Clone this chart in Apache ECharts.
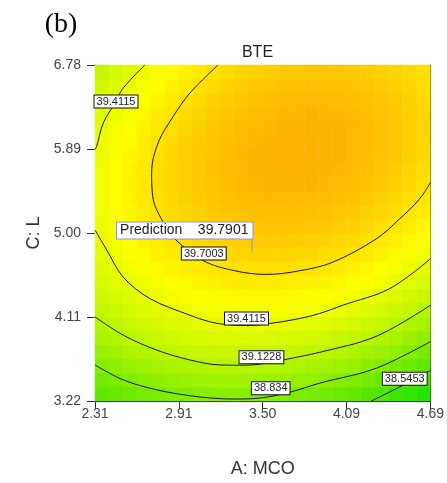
<!DOCTYPE html>
<html>
<head>
<meta charset="utf-8">
<script src="https://cdn.jsdelivr.net/npm/echarts@6/dist/echarts.min.js"></script>
<style>
  html, body { margin: 0; padding: 0; background: #fff; }
  #chart { width: 447px; height: 483px; }
</style>
</head>
<body>
<div id="chart"></div>
<script>
// Cell centres of the response grid: factor A (MCO) and factor C (L)
const aCells = ['2.360', '2.459', '2.558', '2.657', '2.756', '2.855', '2.955', '3.054',
                '3.153', '3.252', '3.351', '3.450', '3.550', '3.649', '3.748', '3.847',
                '3.946', '4.045', '4.145', '4.244', '4.343', '4.442', '4.541', '4.640'];
const cCells = ['3.294', '3.443', '3.591', '3.739', '3.888', '4.036', '4.184', '4.333',
                '4.481', '4.629', '4.778', '4.926', '5.074', '5.223', '5.371', '5.519',
                '5.668', '5.816', '5.964', '6.113', '6.261', '6.409', '6.558', '6.706'];

// Predicted BTE on the A–C plane; one row per C cell, lowest C first
const bteGrid = [
  [38.64, 38.68, 38.73, 38.76, 38.79, 38.82, 38.84, 38.86, 38.87, 38.87, 38.87, 38.86, 38.85, 38.83, 38.81, 38.78, 38.75, 38.71, 38.67, 38.62, 38.56, 38.50, 38.44, 38.37],
  [38.75, 38.80, 38.84, 38.88, 38.91, 38.94, 38.96, 38.98, 38.99, 39.00, 39.00, 38.99, 38.98, 38.97, 38.94, 38.92, 38.89, 38.85, 38.81, 38.76, 38.70, 38.65, 38.58, 38.51],
  [38.85, 38.90, 38.95, 38.99, 39.02, 39.05, 39.07, 39.09, 39.11, 39.11, 39.11, 39.11, 39.10, 39.09, 39.07, 39.04, 39.01, 38.98, 38.94, 38.89, 38.84, 38.78, 38.72, 38.65],
  [38.95, 39.00, 39.05, 39.09, 39.12, 39.15, 39.18, 39.20, 39.21, 39.22, 39.23, 39.22, 39.22, 39.20, 39.19, 39.16, 39.13, 39.10, 39.06, 39.01, 38.96, 38.91, 38.85, 38.78],
  [39.03, 39.09, 39.14, 39.18, 39.22, 39.25, 39.28, 39.30, 39.31, 39.32, 39.33, 39.33, 39.32, 39.31, 39.29, 39.27, 39.25, 39.21, 39.17, 39.13, 39.08, 39.03, 38.97, 38.90],
  [39.11, 39.17, 39.22, 39.26, 39.30, 39.34, 39.36, 39.39, 39.41, 39.42, 39.42, 39.42, 39.42, 39.41, 39.40, 39.37, 39.35, 39.32, 39.28, 39.24, 39.19, 39.14, 39.08, 39.02],
  [39.19, 39.24, 39.29, 39.34, 39.38, 39.42, 39.45, 39.47, 39.49, 39.50, 39.51, 39.51, 39.51, 39.50, 39.49, 39.47, 39.45, 39.42, 39.38, 39.34, 39.29, 39.24, 39.18, 39.12],
  [39.25, 39.31, 39.36, 39.41, 39.45, 39.49, 39.52, 39.55, 39.57, 39.58, 39.59, 39.59, 39.59, 39.59, 39.57, 39.56, 39.53, 39.50, 39.47, 39.43, 39.39, 39.34, 39.28, 39.22],
  [39.31, 39.37, 39.42, 39.47, 39.51, 39.55, 39.58, 39.61, 39.63, 39.65, 39.66, 39.67, 39.67, 39.66, 39.65, 39.63, 39.61, 39.59, 39.55, 39.52, 39.47, 39.42, 39.37, 39.31],
  [39.36, 39.42, 39.47, 39.52, 39.57, 39.61, 39.64, 39.67, 39.69, 39.71, 39.72, 39.73, 39.73, 39.73, 39.72, 39.71, 39.69, 39.66, 39.63, 39.59, 39.55, 39.50, 39.45, 39.39],
  [39.40, 39.46, 39.52, 39.57, 39.62, 39.66, 39.69, 39.72, 39.75, 39.77, 39.78, 39.79, 39.79, 39.79, 39.78, 39.77, 39.75, 39.73, 39.70, 39.66, 39.62, 39.58, 39.52, 39.47],
  [39.43, 39.49, 39.55, 39.61, 39.65, 39.70, 39.73, 39.77, 39.79, 39.81, 39.83, 39.84, 39.84, 39.84, 39.84, 39.82, 39.81, 39.78, 39.76, 39.72, 39.68, 39.64, 39.59, 39.54],
  [39.45, 39.52, 39.58, 39.64, 39.68, 39.73, 39.77, 39.80, 39.83, 39.85, 39.87, 39.88, 39.89, 39.89, 39.88, 39.87, 39.86, 39.83, 39.81, 39.78, 39.74, 39.70, 39.65, 39.59],
  [39.47, 39.54, 39.60, 39.66, 39.71, 39.75, 39.79, 39.83, 39.86, 39.88, 39.90, 39.91, 39.92, 39.92, 39.92, 39.91, 39.90, 39.88, 39.85, 39.82, 39.79, 39.74, 39.70, 39.65],
  [39.48, 39.55, 39.61, 39.67, 39.72, 39.77, 39.81, 39.85, 39.88, 39.90, 39.92, 39.94, 39.95, 39.95, 39.95, 39.94, 39.93, 39.91, 39.89, 39.86, 39.82, 39.78, 39.74, 39.69],
  [39.48, 39.55, 39.62, 39.68, 39.73, 39.78, 39.82, 39.86, 39.89, 39.92, 39.94, 39.96, 39.97, 39.97, 39.97, 39.97, 39.95, 39.94, 39.92, 39.89, 39.86, 39.82, 39.77, 39.72],
  [39.48, 39.55, 39.61, 39.67, 39.73, 39.78, 39.82, 39.86, 39.90, 39.93, 39.95, 39.97, 39.98, 39.98, 39.99, 39.98, 39.97, 39.96, 39.94, 39.91, 39.88, 39.84, 39.80, 39.75],
  [39.46, 39.53, 39.60, 39.66, 39.72, 39.77, 39.82, 39.86, 39.89, 39.92, 39.95, 39.97, 39.98, 39.99, 39.99, 39.99, 39.98, 39.97, 39.95, 39.92, 39.89, 39.86, 39.82, 39.77],
  [39.44, 39.51, 39.58, 39.65, 39.71, 39.76, 39.81, 39.85, 39.88, 39.92, 39.94, 39.96, 39.98, 39.99, 39.99, 39.99, 39.98, 39.97, 39.95, 39.93, 39.90, 39.87, 39.83, 39.78],
  [39.41, 39.49, 39.56, 39.62, 39.68, 39.74, 39.78, 39.83, 39.87, 39.90, 39.93, 39.95, 39.96, 39.98, 39.98, 39.98, 39.98, 39.97, 39.95, 39.93, 39.90, 39.87, 39.83, 39.79],
  [39.37, 39.45, 39.52, 39.59, 39.65, 39.70, 39.76, 39.80, 39.84, 39.87, 39.90, 39.93, 39.94, 39.96, 39.96, 39.97, 39.96, 39.95, 39.94, 39.92, 39.89, 39.86, 39.83, 39.78],
  [39.33, 39.40, 39.48, 39.55, 39.61, 39.67, 39.72, 39.76, 39.81, 39.84, 39.87, 39.90, 39.92, 39.93, 39.94, 39.94, 39.94, 39.93, 39.92, 39.90, 39.88, 39.85, 39.81, 39.77],
  [39.27, 39.35, 39.43, 39.50, 39.56, 39.62, 39.67, 39.72, 39.76, 39.80, 39.83, 39.86, 39.88, 39.90, 39.91, 39.91, 39.91, 39.90, 39.89, 39.87, 39.85, 39.82, 39.79, 39.75],
  [39.21, 39.29, 39.37, 39.44, 39.51, 39.57, 39.62, 39.67, 39.71, 39.75, 39.79, 39.81, 39.84, 39.85, 39.86, 39.87, 39.87, 39.87, 39.86, 39.84, 39.82, 39.79, 39.76, 39.72]
];

// Axis ticks
const xTickValues = [2.31, 2.905, 3.50, 4.095, 4.69];
const xTickLabels = ['2.31', '2.91', '3.50', '4.09', '4.69'];
const yTickValues = [3.22, 4.11, 5.00, 5.89, 6.78];
const yTickLabels = ['3.22', '4.11', '5.00', '5.89', '6.78'];

// Contour lines as [A, C] points
const contour39_4115a = [[2.664, 6.78], [2.510, 6.535], [2.452, 6.377], [2.369, 6.166], [2.322, 5.919], [2.31, 5.885]];
const contour39_7003 = [[3.183, 6.78], [2.983, 6.482], [2.865, 6.235], [2.758, 5.955], [2.712, 5.639], [2.723, 5.358],
                        [2.782, 5.147], [2.865, 4.955], [3.077, 4.708], [3.302, 4.600], [3.526, 4.561], [3.762, 4.600],
                        [3.998, 4.691], [4.305, 4.937], [4.470, 5.147], [4.612, 5.358], [4.69, 5.534]];
const contour39_4115b = [[2.31, 5.032], [2.393, 4.821], [2.510, 4.533], [2.700, 4.305], [2.983, 4.129], [3.125, 4.059],
                         [3.266, 4.026], [3.408, 4.020], [3.550, 4.041], [3.762, 4.094], [3.904, 4.147], [4.067, 4.234],
                         [4.400, 4.410], [4.69, 4.726]];
const contour39_1228 = [[2.31, 4.112], [2.510, 3.918], [2.747, 3.760], [2.983, 3.655], [3.195, 3.602], [3.337, 3.599],
                        [3.479, 3.610], [3.644, 3.655], [3.904, 3.736], [4.305, 3.905], [4.69, 4.234]];
const contour38_834 = [[2.31, 3.602], [2.510, 3.444], [2.747, 3.339], [2.983, 3.276], [3.160, 3.248], [3.302, 3.241],
                       [3.479, 3.251], [3.691, 3.312], [3.904, 3.409], [4.305, 3.567], [4.69, 3.849]];
const contour38_5453 = [[4.270, 3.22], [4.470, 3.367], [4.69, 3.546]];

// Contour level tags: [level, A, C]
const contourTags = [
  ['39.4115', 2.459, 6.393],
  ['39.7003', 3.082, 4.782],
  ['39.4115', 3.385, 4.094],
  ['39.1228', 3.491, 3.683],
  ['38.834', 3.557, 3.354],
  ['38.5453', 4.508, 3.455]
];

// Prediction flag
const predA = 3.424;
const predC = 4.803;
const predValue = '39.7901';

const heatData = [];
bteGrid.forEach((row, j) => row.forEach((v, i) => heatData.push([i, j, v])));

const tickText = (ticks, labels) => (v) => {
  const i = ticks.findIndex(t => Math.abs(t - v) < 1e-6);
  return i >= 0 ? labels[i] : '';
};

const lineColor = '#151515';
const contourSeries = [contour39_4115a, contour39_7003, contour39_4115b, contour39_1228, contour38_834, contour38_5453]
  .map(pts => ({
    type: 'line',
    xAxisIndex: 1,
    yAxisIndex: 1,
    data: pts,
    smooth: 0.35,
    symbol: 'none',
    silent: true,
    lineStyle: { color: lineColor, width: 1 },
    z: 3
  }));

const chart = echarts.init(document.getElementById('chart'), null, { renderer: 'canvas' });

chart.setOption({
  animation: false,
  backgroundColor: '#fff',
  graphic: [
    {
      type: 'text', x: 61, y: 25,
      style: { text: '(b)', font: '28px "Liberation Serif", "Times New Roman", serif', fill: '#000',
               textAlign: 'center', textVerticalAlign: 'middle' }
    },
    {
      type: 'text', x: 257.5, y: 53,
      style: { text: 'BTE', font: '16px Arial, "Liberation Sans", sans-serif', fill: '#222',
               textAlign: 'center', textVerticalAlign: 'middle' }
    }
  ],
  grid: { left: 95, top: 65, width: 336, height: 338, show: false },
  visualMap: {
    type: 'continuous',
    show: false,
    seriesIndex: 0,
    dimension: 2,
    min: 38.2,
    max: 40.0,
    inRange: { color: ['#00e000', '#5fe800', '#b4f500', '#ffff00', '#ffb000'] }
  },
  xAxis: [
    {
      type: 'category', data: aCells, position: 'top',
      axisLine: { show: true, lineStyle: { color: lineColor, width: 1 } },
      axisTick: { show: false }, axisLabel: { show: false }, splitLine: { show: false }
    },
    {
      type: 'value', min: 2.31, max: 4.69, position: 'bottom',
      name: 'A: MCO', nameLocation: 'middle', nameGap: 59,
      nameTextStyle: { fontSize: 18, color: '#333', fontFamily: 'Arial' },
      axisLine: { show: true, onZero: false, lineStyle: { color: lineColor, width: 1 } },
      axisTick: { show: true, length: 8, customValues: xTickValues, lineStyle: { color: '#333' } },
      axisLabel: { customValues: xTickValues, formatter: tickText(xTickValues, xTickLabels),
                   margin: 6, fontSize: 14, color: '#444', fontFamily: 'Arial' },
      splitLine: { show: false }
    }
  ],
  yAxis: [
    {
      type: 'category', data: cCells, position: 'right',
      axisLine: { show: true, lineStyle: { color: lineColor, width: 1 } },
      axisTick: { show: false }, axisLabel: { show: false }, splitLine: { show: false }
    },
    {
      type: 'value', min: 3.22, max: 6.78, position: 'left',
      name: 'C: L', nameLocation: 'middle', nameGap: 46, nameRotate: 90,
      nameTextStyle: { fontSize: 18, color: '#333', fontFamily: 'Arial' },
      axisLine: { show: true, onZero: false, lineStyle: { color: '#555', width: 1 } },
      axisTick: { show: true, length: 8, customValues: yTickValues, lineStyle: { color: '#333' } },
      axisLabel: { customValues: yTickValues, formatter: tickText(yTickValues, yTickLabels),
                   margin: 14, fontSize: 14, color: '#444', fontFamily: 'Arial' },
      splitLine: { show: false }
    }
  ],
  series: [
    {
      type: 'heatmap',
      xAxisIndex: 0,
      yAxisIndex: 0,
      data: heatData,
      silent: true,
      itemStyle: { borderWidth: 0 },
      z: 1
    },
    ...contourSeries,
    {
      type: 'scatter',
      xAxisIndex: 1,
      yAxisIndex: 1,
      symbolSize: 1,
      silent: true,
      itemStyle: { color: 'transparent', opacity: 1 },
      data: contourTags.map(t => ({ name: t[0], value: [t[1], t[2]] })),
      label: {
        show: true, position: 'inside', formatter: '{b}',
        backgroundColor: '#fff', borderColor: '#111', borderWidth: 1,
        padding: [1, 2, 0, 2], fontSize: 11, fontFamily: 'Arial', color: '#222'
      },
      z: 5
    },
    {
      type: 'scatter',
      xAxisIndex: 1,
      yAxisIndex: 1,
      silent: true,
      symbol: 'rect',
      symbolSize: [1, 13],
      symbolOffset: [0, -6.5],
      itemStyle: { color: '#8f8fe8', opacity: 1 },
      data: [[predA, predC]],
      label: {
        show: true, position: [1, 0], align: 'right', verticalAlign: 'bottom',
        formatter: 'Prediction    ' + predValue,
        backgroundColor: '#fff', borderColor: '#8f8fe8', borderWidth: 1,
        padding: [1, 4, 1, 3], fontSize: 14, fontFamily: 'Arial', color: '#222'
      },
      z: 6
    }
  ]
});
</script>
</body>
</html>
